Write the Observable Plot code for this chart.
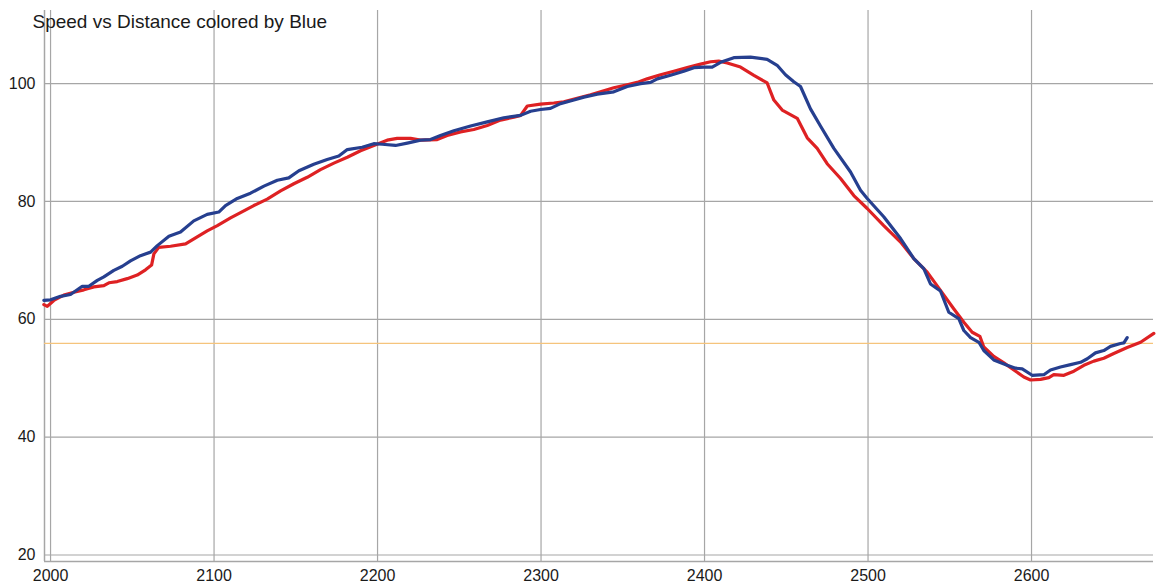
<!DOCTYPE html>
<html>
<head>
<meta charset="utf-8">
<script src="https://cdn.jsdelivr.net/npm/d3@7"></script>
<script src="https://cdn.jsdelivr.net/npm/@observablehq/plot@0.6"></script>
<style>
  html, body { margin: 0; padding: 0; background: #ffffff; }
  #chart { width: 1169px; height: 587px; }
</style>
</head>
<body>
<div id="chart"></div>
<script>
const title = "Speed vs Distance colored by Blue";

const blueDistance = [1995.9,2000.0,2006.1,2012.2,2019.4,2023.4,2028.6,2032.6,2038.7,2043.9,2048.9,2055.0,2061.2,2065.3,2072.4,2079.5,2087.6,2095.8,2102.9,2107.0,2114.2,2122.3,2130.5,2138.7,2145.7,2151.9,2161.0,2169.2,2176.3,2181.5,2190.6,2197.7,2202.9,2211.0,2218.2,2226.3,2232.4,2238.5,2246.7,2256.9,2267.1,2277.2,2287.5,2293.6,2299.7,2305.8,2311.9,2320.1,2326.2,2334.4,2344.5,2352.7,2360.9,2367.0,2371.1,2379.2,2387.3,2393.5,2399.6,2404.7,2409.8,2417.9,2428.1,2438.3,2444.4,2449.5,2454.6,2458.7,2464.8,2470.9,2479.1,2489.3,2495.4,2499.5,2509.6,2519.9,2528.0,2534.1,2538.2,2544.3,2549.4,2555.5,2558.6,2562.7,2567.8,2570.8,2576.9,2585.1,2590.2,2594.3,2600.4,2607.5,2611.6,2617.7,2623.9,2630.0,2634.1,2639.1,2644.2,2648.3,2654.4,2656.5,2658.5];
const blueSpeed = [63.2,63.3,63.9,64.2,65.6,65.6,66.6,67.2,68.3,69.0,69.9,70.8,71.4,72.5,74.1,74.8,76.7,77.8,78.2,79.3,80.5,81.4,82.6,83.6,84.0,85.2,86.3,87.1,87.7,88.8,89.2,89.8,89.7,89.5,89.9,90.4,90.5,91.2,92.0,92.8,93.5,94.2,94.6,95.3,95.6,95.8,96.6,97.2,97.7,98.2,98.6,99.5,100.0,100.2,100.8,101.4,102.1,102.7,102.8,102.8,103.6,104.4,104.5,104.1,103.1,101.5,100.3,99.5,95.7,92.8,89.0,85.0,81.9,80.5,77.4,73.7,70.3,68.6,66.0,64.8,61.2,60.1,58.1,56.9,56.1,54.7,53.1,52.2,51.7,51.6,50.5,50.6,51.4,51.9,52.3,52.7,53.3,54.3,54.7,55.4,55.9,56.0,56.9];

const redDistance = [1995.9,1998.0,2002.0,2008.1,2014.3,2020.4,2026.5,2032.6,2035.7,2040.8,2046.9,2053.0,2058.1,2061.8,2063.2,2066.2,2073.4,2082.6,2089.7,2095.8,2102.0,2110.1,2116.2,2124.3,2132.5,2140.7,2148.8,2157.0,2165.1,2173.3,2181.5,2189.6,2197.7,2205.9,2212.0,2220.2,2226.3,2236.5,2242.6,2250.8,2258.9,2267.1,2275.2,2283.4,2287.5,2291.6,2299.7,2307.8,2313.9,2322.1,2330.3,2337.4,2344.5,2352.7,2358.8,2364.9,2373.1,2381.2,2389.4,2397.6,2403.7,2408.7,2413.9,2422.0,2430.2,2438.3,2442.4,2447.5,2456.7,2462.8,2468.9,2475.0,2483.2,2491.3,2499.5,2509.6,2519.9,2528.0,2536.2,2544.3,2552.4,2558.6,2563.7,2568.4,2570.8,2576.9,2583.1,2589.2,2595.3,2599.4,2605.5,2610.6,2613.6,2619.8,2625.9,2632.0,2638.1,2644.2,2650.3,2658.5,2666.7,2674.8];
const redSpeed = [62.5,62.2,63.2,64.1,64.6,65.0,65.5,65.7,66.2,66.4,66.9,67.5,68.4,69.2,71.1,72.2,72.4,72.8,74.0,75.0,75.9,77.2,78.1,79.3,80.4,81.8,83.0,84.1,85.4,86.5,87.5,88.6,89.5,90.4,90.7,90.7,90.4,90.5,91.2,91.8,92.2,92.9,93.8,94.3,94.6,96.2,96.5,96.7,96.9,97.5,98.1,98.7,99.3,99.8,100.2,100.8,101.5,102.1,102.7,103.3,103.7,103.8,103.5,102.8,101.4,100.1,97.2,95.5,94.1,90.8,89.0,86.4,83.9,81.0,78.8,75.9,73.1,70.3,68.0,64.9,61.8,59.5,57.8,57.1,55.3,53.7,52.6,51.4,50.2,49.7,49.8,50.1,50.6,50.5,51.2,52.2,52.9,53.4,54.2,55.2,56.1,57.6];

const referenceSpeed = [55.9];
const xTicks = [2000, 2100, 2200, 2300, 2400, 2500, 2600];
const yTicks = [20, 40, 60, 80, 100];

const xDomain = [1996.3, 2674.6];
const yDomain = [18.9, 112.4];

const blue = blueDistance.map((d, i) => ({distance: d, speed: blueSpeed[i]}));
const red = redDistance.map((d, i) => ({distance: d, speed: redSpeed[i]}));

const gridColor = "#a6a6a6";

const chart = Plot.plot({
  width: 1169,
  height: 587,
  marginLeft: 44,
  marginRight: 16,
  marginTop: 10,
  marginBottom: 26,
  style: {
    fontFamily: "'Liberation Sans', Arial, Helvetica, sans-serif",
    fontSize: "16px",
    color: "#1a1a1a",
    background: "#ffffff",
    overflow: "visible"
  },
  x: {
    domain: xDomain,
    ticks: xTicks,
    tickFormat: d => String(d),
    tickSize: 0,
    tickPadding: 8,
    label: null
  },
  y: {
    domain: yDomain,
    ticks: yTicks,
    tickFormat: d => String(d),
    tickSize: 0,
    tickPadding: 9,
    label: null
  },
  marks: [
    Plot.ruleX(xTicks, {stroke: gridColor, strokeWidth: 1.2}),
    Plot.ruleY(yTicks, {stroke: gridColor, strokeWidth: 1.2}),
    Plot.ruleX([xDomain[0]], {stroke: gridColor, strokeWidth: 1.5}),
    Plot.ruleY([yDomain[0]], {stroke: gridColor, strokeWidth: 1.5}),
    Plot.ruleY(referenceSpeed, {stroke: "#f5c47c", strokeWidth: 1.2}),
    Plot.line(red, {x: "distance", y: "speed", stroke: "#de2123", strokeWidth: 3.2, strokeLinejoin: "round", strokeLinecap: "round"}),
    Plot.line(blue, {x: "distance", y: "speed", stroke: "#263f8f", strokeWidth: 3.2, strokeLinejoin: "round", strokeLinecap: "round"}),
    Plot.text([title], {text: d => d, frameAnchor: "top-left", textAnchor: "start", lineAnchor: "top", dx: -12, dy: 4, fontSize: 19, fill: "#1a1a1a"})
  ]
});

document.getElementById("chart").appendChild(chart);
</script>
</body>
</html>
